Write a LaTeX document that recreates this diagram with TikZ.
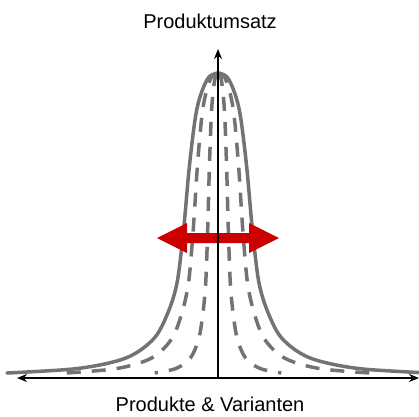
\documentclass[tikz,border=0pt]{standalone}
\usepackage{fontspec}
\setmainfont{Liberation Sans}
\usepackage{xcolor}
\usepackage{tikz}
\usetikzlibrary{arrows.meta}
\definecolor{CurveGray}{RGB}{115,115,115}
\definecolor{ShiftRed}{RGB}{204,0,0}

\begin{document}
\begin{tikzpicture}[x=1pt, y=-1pt,
    solidcurve/.style={draw=CurveGray, line width=3.5pt, line cap=round},
    dashcurve/.style={draw=CurveGray, line width=3.5pt, dash pattern=on 14pt off 11pt},
    axisline/.style={line width=1.5pt}]
    \path[use as bounding box] (0,0) rectangle (419,416);
    \coordinate (origin) at (218,378);
    \coordinate (ytip) at (218,49);
    \coordinate (xleft) at (17,378);
    \coordinate (xright) at (419,378);

    \foreach \w/\sty in {1/solidcurve, 0.72/dashcurve, 0.3/dashcurve}
      \foreach \s in {-1,1}
        \draw[\sty, shift={(218,0)}, xscale=\s*\w] plot[smooth, tension=0.55] coordinates
          {(0,73) (8,76) (14,86) (20,104) (24,127) (29,170) (33,215) (36,245)
           (41,283) (49,310) (62,336) (82,353) (105,362) (145,369) (211,373)};

    \fill[ShiftRed, shift={(218,238)}] (-61,0) -- (-31,-15) -- (-31,-5) -- (31,-5) -- (31,-15)
      -- (61,0) -- (31,15) -- (31,5) -- (-31,5) -- (-31,15) -- cycle;

    \draw[axisline, -{Stealth[length=10pt, width=8pt]}] (origin) -- (ytip);
    \draw[axisline, {Stealth[length=10pt, width=8pt]}-{Stealth[length=10pt, width=8pt]}] (xleft) -- (xright);

    \node[anchor=base] (umsatz) at (210,28) {\fontsize{20}{24}\selectfont Produktumsatz};
    \node[anchor=base] (varianten) at (210,411) {\fontsize{20}{24}\selectfont Produkte \& Varianten};
\end{tikzpicture}
\end{document}
